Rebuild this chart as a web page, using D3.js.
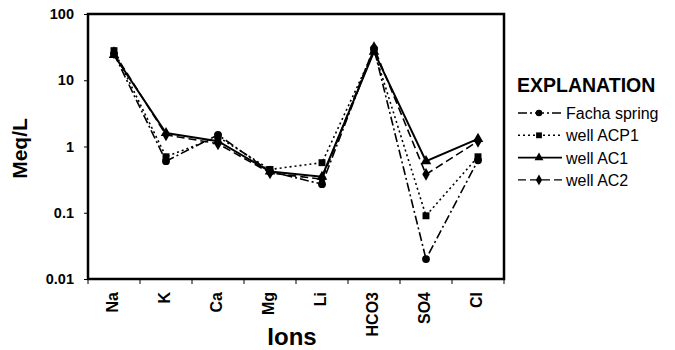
<!DOCTYPE html>
<html>
<head>
<meta charset="utf-8">
<script src="https://cdn.jsdelivr.net/npm/d3@7"></script>
<style>
  body { margin: 0; background: #fff; }
  text { font-family: Arial, "Liberation Sans", sans-serif; }
</style>
</head>
<body>
<div id="viz"></div>
<script>
var margin = {top: 14, right: 171, bottom: 71, left: 88},
    width = 675,
    height = 350;

var ions = ["Na", "K", "Ca", "Mg", "Li", "HCO3", "SO4", "Cl"];
var yTicks = [0.01, 0.1, 1, 10, 100];

var facha = [25, 0.6, 1.5, 0.42, 0.27, 30, 0.02, 0.62];
var acp1  = [28, 0.7, 1.4, 0.45, 0.57, 28, 0.09, 0.7];
var ac1   = [24, 1.6, 1.2, 0.42, 0.35, 27, 0.6, 1.3];
var ac2   = [26, 1.5, 1.1, 0.40, 0.32, 31, 0.38, 1.2];

var seriesNames = ["Facha spring", "well ACP1", "well AC1", "well AC2"];

var series = [
  {name: seriesNames[0], values: facha, dash: "9,3,2,3", symbol: d3.symbolCircle},
  {name: seriesNames[1], values: acp1,  dash: "2,3",     symbol: d3.symbolSquare},
  {name: seriesNames[2], values: ac1,   dash: null,      symbol: d3.symbolTriangle},
  {name: seriesNames[3], values: ac2,   dash: "8,4",     symbol: d3.symbolDiamond}
];

var svg = d3.select("#viz").append("svg")
  .attr("width", width)
  .attr("height", height);

var x = d3.scaleBand()
  .domain(ions)
  .range([margin.left, width - margin.right]);

var y = d3.scaleLog()
  .domain([0.01, 100])
  .range([height - margin.bottom, margin.top]);

// x axis: ticks on band edges, labels rotated
var xAxis = svg.append("g")
  .attr("transform", "translate(0," + (height - margin.bottom) + ")");

xAxis.selectAll("line.tick")
  .data(ions.concat(["end"]))
  .join("line")
  .attr("x1", (d, i) => i < ions.length ? x(d) : x.range()[1])
  .attr("x2", (d, i) => i < ions.length ? x(d) : x.range()[1])
  .attr("y1", 0)
  .attr("y2", 5)
  .attr("stroke", "#000")
  .attr("stroke-width", 1);

xAxis.selectAll("text")
  .data(ions)
  .join("text")
  .attr("transform", d => "translate(" + (x(d) + x.bandwidth() / 2 + 4) + ",13) rotate(-90)")
  .attr("text-anchor", "end")
  .attr("font-size", 16)
  .attr("font-weight", "bold")
  .text(d => d);

// y axis
var yAxis = svg.append("g")
  .attr("transform", "translate(" + margin.left + ",0)")
  .call(d3.axisLeft(y).tickValues(yTicks).tickFormat(d => d3.format("~g")(d)).tickSize(4).tickPadding(10));
yAxis.select(".domain").remove();
yAxis.selectAll("text")
  .attr("font-size", 14.5)
  .attr("font-weight", "bold")
  .attr("font-family", "Arial, 'Liberation Sans', sans-serif")
  .attr("fill", "#000");

// frame
svg.append("rect")
  .attr("x", margin.left)
  .attr("y", margin.top)
  .attr("width", width - margin.right - margin.left)
  .attr("height", height - margin.bottom - margin.top)
  .attr("fill", "none")
  .attr("stroke", "#000")
  .attr("stroke-width", 2.5);

// axis titles
svg.append("text")
  .attr("transform", "translate(27," + (y(1) + 2) + ") rotate(-90)")
  .attr("text-anchor", "middle")
  .attr("font-size", 21)
  .attr("font-weight", "bold")
  .text("Meq/L");

svg.append("text")
  .attr("x", 292)
  .attr("y", 345)
  .attr("text-anchor", "middle")
  .attr("font-size", 24)
  .attr("font-weight", "bold")
  .text("Ions");

// lines
var line = d3.line()
  .x((d, i) => x(ions[i]) + x.bandwidth() / 2)
  .y(d => y(d));

var plot = svg.append("g");

series.forEach(function(s) {
  plot.append("path")
    .datum(s.values)
    .attr("fill", "none")
    .attr("stroke", "#000")
    .attr("stroke-width", s.dash ? 1.6 : 2)
    .attr("stroke-dasharray", s.dash)
    .attr("d", line);

  plot.selectAll(null)
    .data(s.values)
    .join("path")
    .attr("transform", (d, i) => "translate(" + (x(ions[i]) + x.bandwidth() / 2) + "," + y(d) + ")")
    .attr("d", d3.symbol().type(s.symbol).size(48))
    .attr("fill", "#000");
});

// legend
var legend = svg.append("g")
  .attr("transform", "translate(518,0)");

legend.append("text")
  .attr("x", -1)
  .attr("y", 92)
  .attr("font-size", 19.5)
  .attr("font-weight", "bold")
  .text("EXPLANATION");

var items = legend.selectAll("g.item")
  .data(series)
  .join("g")
  .attr("transform", (d, i) => "translate(0," + (113 + i * 22.3) + ")");

items.append("line")
  .attr("x1", 0)
  .attr("x2", 44)
  .attr("stroke", "#000")
  .attr("stroke-width", d => d.dash ? 1.4 : 1.8)
  .attr("stroke-dasharray", d => d.dash);

items.append("path")
  .attr("transform", "translate(21,0)")
  .attr("d", d => d3.symbol().type(d.symbol).size(34)())
  .attr("fill", "#000");

items.append("text")
  .attr("x", 48)
  .attr("y", 6)
  .attr("font-size", 16)
  .text(d => d.name);
</script>
</body>
</html>
